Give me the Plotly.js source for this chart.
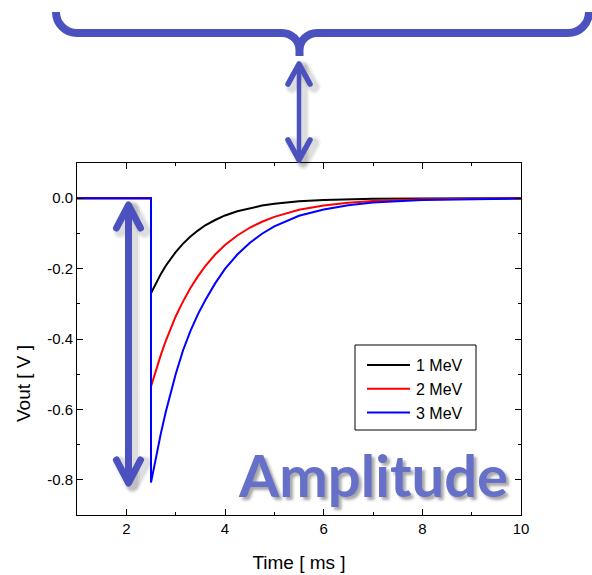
<!DOCTYPE html>
<html>
<head>
<meta charset="utf-8">
<script src="https://cdn.plot.ly/plotly-3.0.1.min.js"></script>
<style>html,body{margin:0;padding:0;background:#fff;}#chart{width:592px;height:575px;}</style>
</head>
<body>
<div id="chart"></div>
<script>
// ---- data ----
const time = [1, 2.5, 2.5, 2.6, 2.7, 2.8, 2.9, 3.0, 3.15, 3.3, 3.45, 3.6, 3.8, 4.0, 4.25, 4.5, 4.75, 5.0, 5.5, 6.0, 6.5, 7.0, 8.0, 9.0, 10.0];
const vout1MeV = [0, 0, -0.270, -0.241, -0.215, -0.192, -0.171, -0.153, -0.129, -0.109, -0.092, -0.077, -0.062, -0.049, -0.037, -0.028, -0.021, -0.016, -0.009, -0.005, -0.003, -0.0016, -0.0005, 0, 0];
const vout2MeV = [0, 0, -0.535, -0.488, -0.445, -0.405, -0.369, -0.336, -0.293, -0.255, -0.222, -0.193, -0.160, -0.133, -0.106, -0.084, -0.067, -0.053, -0.033, -0.021, -0.013, -0.008, -0.003, -0.001, -0.0005];
const vout3MeV = [0, 0, -0.808, -0.735, -0.668, -0.607, -0.552, -0.500, -0.432, -0.377, -0.330, -0.290, -0.242, -0.201, -0.160, -0.127, -0.101, -0.080, -0.050, -0.032, -0.020, -0.0125, -0.005, -0.002, -0.0008];
const seriesNames = ['1 MeV', '2 MeV', '3 MeV'];
const xTickVals = [2, 4, 6, 8, 10];
const xTickText = ['2', '4', '6', '8', '10'];
const yTickVals = [0, -0.2, -0.4, -0.6, -0.8];
const yTickText = ['0.0', '-0.2', '-0.4', '-0.6', '-0.8'];

// ---- layout geometry (pixels) ----
const W = 592, H = 575, L = 77, R = 71, T = 163, B = 60;
const pw = W - L - R, ph = H - T - B;
const px = x => (x - L) / pw;
const py = y => (H - B - y) / ph;
function path(cmds) {
  return cmds.map(c => {
    const nums = c.slice(1);
    const pts = [];
    for (let i = 0; i < nums.length; i += 2) pts.push(px(nums[i]).toFixed(5) + ',' + py(nums[i + 1]).toFixed(5));
    return c[0] + pts.join(' ');
  }).join(' ');
}
const accent = '#4B52C0';
const k = 0.5523;
const shapes = [];
const arrowIdx = [];
// brace
const r1 = 21, r2 = 17;
shapes.push({type: 'path', xref: 'paper', yref: 'paper', layer: 'above',
  path: path([
    ['M', 56, 12], ['C', 56, 12 + r1 * k, 77 - r1 * k, 33, 77, 33], ['L', 282, 33],
    ['C', 282 + r2 * k, 33, 299.5, 50 - r2 * k, 299.5, 50], ['L', 299.5, 56], ['L', 299.5, 50],
    ['C', 299.5, 50 - r2 * k, 317 - r2 * k, 33, 317, 33], ['L', 568, 33],
    ['C', 568 + r1 * k, 33, 589, 12 + r1 * k, 589, 12]
  ]),
  line: {color: accent, width: 8}});

function addArrow(x, yTop, yBot, head, halfW, shaftW, headW) {
  const parts = [
    [['M', x, yTop + 2], ['L', x, yBot - 2]],
    [['M', x - halfW, yTop + head], ['L', x, yTop], ['L', x + halfW, yTop + head]],
    [['M', x - halfW, yBot - head], ['L', x, yBot], ['L', x + halfW, yBot - head]]
  ];
  [[8, 0.06], [4, 0.08]].forEach(([extra, op]) => {
    parts.forEach((p, i) => {
      const sp = p.map(c => [c[0], c[1] + 4, c[2] + 3]);
      arrowIdx.push(shapes.length);
      shapes.push({type: 'path', xref: 'paper', yref: 'paper', layer: 'above', path: path(sp),
        line: {color: 'rgba(0,0,0,' + op + ')', width: (i ? headW : shaftW) + extra}});
    });
  });
  parts.forEach((p, i) => {
    arrowIdx.push(shapes.length);
    shapes.push({type: 'path', xref: 'paper', yref: 'paper', layer: 'above', path: path(p),
      line: {color: accent, width: i ? headW : shaftW}});
  });
}
addArrow(299, 64, 160, 20, 11, 4.5, 5.5);
addArrow(128.5, 205, 483, 23, 12, 7, 7);

// legend frame
shapes.push({type: 'rect', xref: 'paper', yref: 'paper', layer: 'above',
  x0: px(355), x1: px(476), y0: py(345), y1: py(430),
  line: {color: '#000', width: 1}, fillcolor: '#fff'});

const colors = ['#000000', '#FF0000', '#0000FF'];
const series = [vout1MeV, vout2MeV, vout3MeV];
const traces = series.map((ys, i) => ({x: time, y: ys, name: seriesNames[i], type: 'scatter', mode: 'lines',
  legendgroup: 'g' + i, line: {color: colors[i], width: 2}}));

const FONT = 'Arial, Liberation Sans, sans-serif';
const axisCommon = {
  showline: true, linecolor: '#000', linewidth: 1, mirror: 'allticks',
  ticks: 'inside', ticklen: 6, tickwidth: 1, tickcolor: '#000',
  showgrid: false, zeroline: false, tickmode: 'array',
  tickfont: {family: FONT, size: 15, color: '#000'}
};

const layout = {
  width: W, height: H,
  margin: {l: L, r: R, t: T, b: B, pad: 0},
  paper_bgcolor: '#fff', plot_bgcolor: '#fff',
  font: {family: FONT, color: '#000'},
  xaxis: Object.assign({}, axisCommon, {
    range: [1, 10], tickvals: xTickVals, ticktext: xTickText,
    minor: {tickmode: 'linear', tick0: 1, dtick: 1, ticks: 'inside', ticklen: 3, tickcolor: '#000', showgrid: false},
    title: {text: 'Time [ ms ]', font: {size: 19, family: FONT}, standoff: 19}
  }),
  yaxis: Object.assign({}, axisCommon, {
    range: [-0.9, 0.1], tickvals: yTickVals, ticktext: yTickText,
    minor: {tickmode: 'linear', tick0: 0, dtick: 0.1, ticks: 'inside', ticklen: 3, tickcolor: '#000', showgrid: false}
  }),
  showlegend: true,
  legend: {x: px(357), y: py(348), xanchor: 'left', yanchor: 'top', itemwidth: 49,
    bgcolor: 'rgba(0,0,0,0)', borderwidth: 0, tracegroupgap: 0,
    font: {size: 16, family: FONT, color: '#000'}},
  shapes: shapes,
  annotations: [{
    xref: 'paper', yref: 'paper', x: px(373), y: py(474), xanchor: 'center', yanchor: 'middle',
    text: '<b>Amplitude</b>', showarrow: false,
    font: {family: 'Lato, Open Sans, sans-serif', size: 58, color: '#6670C8', shadow: '3px 3px 3px rgba(0,0,0,0.35)'}
  }, {
    xref: 'paper', yref: 'paper', x: px(23), y: py(384), xanchor: 'center', yanchor: 'middle',
    text: 'Vout [ V ]', textangle: -90, showarrow: false,
    font: {family: FONT, size: 19, color: '#000'}
  }]
};

Plotly.newPlot('chart', traces, layout, {displayModeBar: false, staticPlot: true}).then(() => {
  document.querySelectorAll('.shapelayer path[data-index]').forEach(p => {
    const idx = +p.getAttribute('data-index');
    if (arrowIdx.indexOf(idx) >= 0) {
      p.style.strokeLinecap = 'round';
      p.style.strokeLinejoin = 'round';
    }
  });
  // longer legend line samples, as in the reference
  document.querySelectorAll('.legend .legendlines path').forEach(p => p.setAttribute('d', 'M10,0h43'));
});
</script>
</body>
</html>
